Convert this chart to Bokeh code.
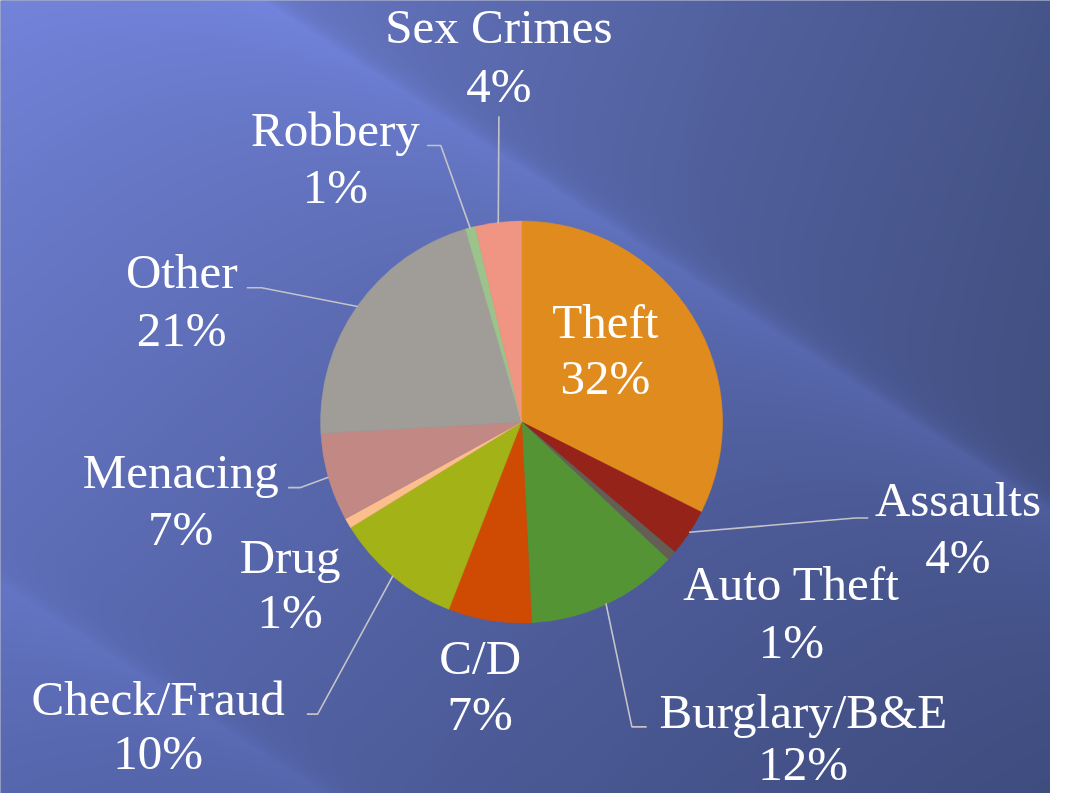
import numpy as np
from bokeh.plotting import figure
from bokeh.models import Range1d, ColumnDataSource
from bokeh.embed import file_html
from bokeh.resources import INLINE
from bokeh.core.properties import value

# ---------------- data ----------------
categories = ["Theft", "Assaults", "Auto Theft", "Burglary/B&E", "C/D",
              "Check/Fraud", "Drug", "Menacing", "Other", "Robbery", "Sex Crimes"]
shares = [32.4, 3.8, 0.8, 12.2, 6.7, 10.3, 0.8, 7.1, 21.4, 0.8, 3.7]
colors = ["#E08B1E", "#95231A", "#655E55", "#559435", "#CF4B04",
          "#A3B216", "#FDBE8E", "#C28884", "#A09D98", "#9CC38C", "#F09583"]

# ---------------- layout (reference pixel coords, y downward) ----------------
W, H = 1066, 809
CX, CY, R = 529, 430, 204
# centre x of label, baseline of name line, baseline of percent line
label_pos = {
    "Theft": (614, 345, 403),
    "Assaults": (972, 527, 585),
    "Auto Theft": (803, 613, 672),
    "Burglary/B&E": (815, 743, 796),
    "C/D": (487, 688, 745),
    "Check/Fraud": (160, 730, 785),
    "Drug": (294, 585, 641),
    "Menacing": (183, 498, 557),
    "Other": (184, 294, 354),
    "Robbery": (340, 150, 208),
    "Sex Crimes": (506, 45, 105),
}
# text-side points of leader lines (the pie end is computed from the data)
leader_pts = {
    "Assaults": [(881, 528), (868, 528)],
    "Burglary/B&E": [(656, 741), (641, 741)],
    "Check/Fraud": [(311, 728), (322, 728)],
    "Menacing": [(292, 497), (304, 497)],
    "Other": [(250, 293), (265, 293)],
    "Robbery": [(433, 148), (447, 148)],
    "Sex Crimes": [(506, 118)],
}

FONT = "Liberation Serif"
FSIZE = "49px"
BASELINE_FIX = 18  # svg text renders slightly below the requested baseline


def to_data_y(sy):
    return H - sy


p = figure(width=1050, height=793, x_range=Range1d(0, W), y_range=Range1d(0, H),
           output_backend="svg", toolbar_location=None, min_border=0,
           x_axis_location=None, y_axis_location=None)
p.grid.visible = False
p.outline_line_color = None
p.background_fill_color = "#4B5A98"
p.border_fill_color = "#4B5A98"

# ---------------- background gradient ----------------
rows, cols = 405, 533
jj = (np.arange(cols) + 0.5) / cols
ii = (np.arange(rows) + 0.5) / rows
sx = np.broadcast_to(jj[None, :] * W, (rows, cols))
sy = np.broadcast_to(H - ii[:, None] * H, (rows, cols))
u = sx / W
v = sy / H
TL = np.array([112, 128, 212.0])
TR = np.array([73, 88, 143.0])
BL = np.array([86, 102, 172.0])
BR = np.array([62, 75, 124.0])
base = (TL[None, None, :] * ((1 - u) * (1 - v))[..., None]
        + TR[None, None, :] * (u * (1 - v))[..., None]
        + BL[None, None, :] * ((1 - u) * v)[..., None]
        + BR[None, None, :] * (u * v)[..., None])
t = sy - 0.65 * sx
d1 = t + 173
b1 = np.where(d1 > 0, np.exp(-np.clip(d1, 0, None) / 130), np.exp(np.clip(d1, None, 0) / 14))
d2 = t - 595
b2 = np.where(d2 > 0, np.exp(-np.clip(d2, 0, None) / 100), np.exp(np.clip(d2, None, 0) / 14))
dk = np.where(d1 < 0, 1 - np.exp(np.clip(d1, None, 0) / 150), 0)
A1 = np.array([12, 14, 26.0])
A2 = np.array([8, 9, 16.0])
D = np.array([3, 3, 6.0])
col = base + b1[..., None] * A1 + b2[..., None] * A2 - dk[..., None] * D
col = np.clip(col, 0, 255).astype(np.uint8)
img = np.empty((rows, cols), dtype=np.uint32)
view = img.view(dtype=np.uint8).reshape((rows, cols, 4))
view[..., 0] = col[..., 0]
view[..., 1] = col[..., 1]
view[..., 2] = col[..., 2]
view[..., 3] = 255
p.image_rgba(image=[img], x=0, y=0, dw=W, dh=H)

# ---------------- pie ----------------
vals = np.array(shares, dtype=float)
frac = vals / vals.sum()
cum_end = np.cumsum(frac)
cum_start = cum_end - frac
start = np.pi / 2 - 2 * np.pi * cum_start
end = np.pi / 2 - 2 * np.pi * cum_end
src = ColumnDataSource(dict(cat=categories, start=start, end=end, color=colors))
p.wedge(x=CX, y=to_data_y(CY), radius=R, start_angle="start", end_angle="end",
        direction="clock", fill_color="color", line_color="color", line_width=0.6,
        source=src)

# ---------------- leader lines ----------------
mid = (cum_start + cum_end) / 2
xs, ys = [], []
for k, cat in enumerate(categories):
    if cat not in leader_pts:
        continue
    th = 2 * np.pi * mid[k]
    px = CX + R * np.sin(th)
    py = CY - R * np.cos(th)
    pts = leader_pts[cat] + [(px, py)]
    xs.append([q[0] for q in pts])
    ys.append([to_data_y(q[1]) for q in pts])
p.multi_line(xs=xs, ys=ys, line_color="#C4C4C8", line_width=1.6)

# ---------------- labels ----------------
pcts = [f"{int(round(s))}%" for s in (frac * 100)]
lx = [label_pos[c][0] for c in categories]
ly1 = [to_data_y(label_pos[c][1] - BASELINE_FIX) for c in categories]
ly2 = [to_data_y(label_pos[c][2] - BASELINE_FIX) for c in categories]
p.text(x=lx, y=ly1, text=categories, text_font=value(FONT), text_font_size=FSIZE,
       text_color="white", text_align="center", text_baseline="alphabetic")
p.text(x=lx, y=ly2, text=pcts, text_font=value(FONT), text_font_size=FSIZE,
       text_color="white", text_align="center", text_baseline="alphabetic")

open("out.html", "w").write(file_html(p, INLINE))
